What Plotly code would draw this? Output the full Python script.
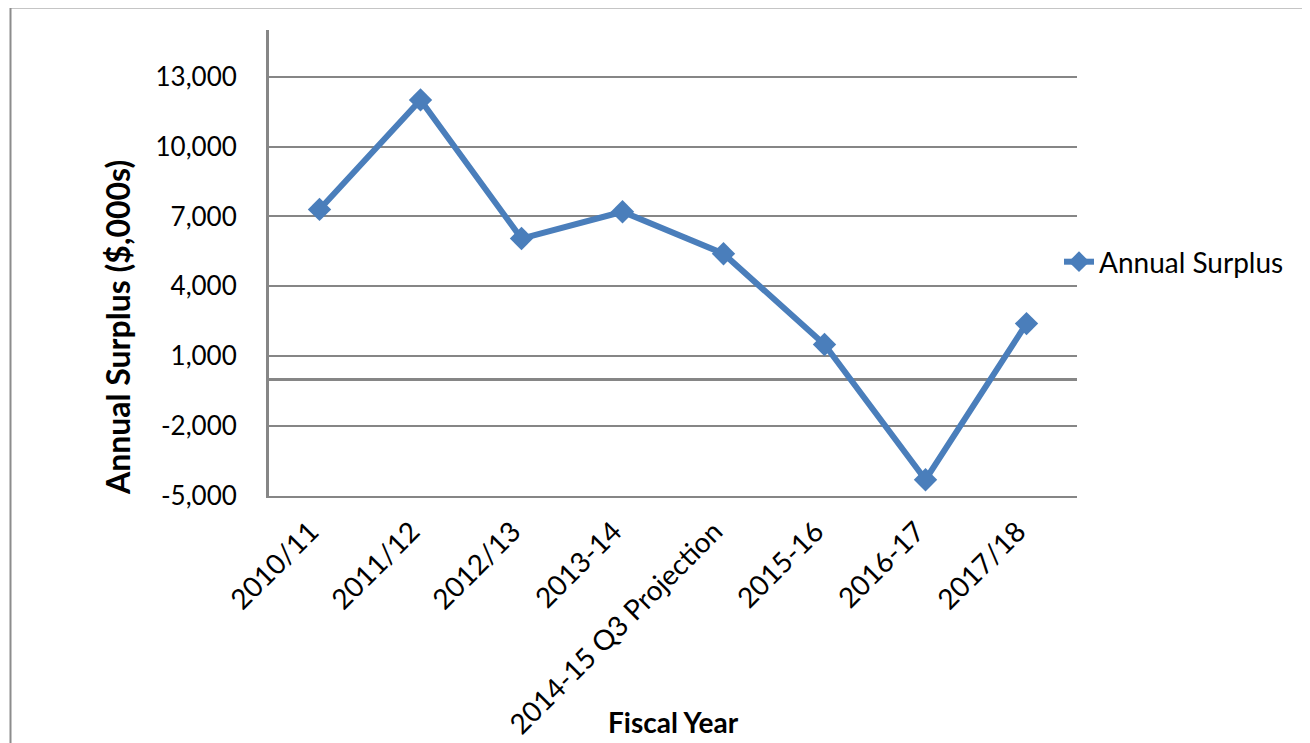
import plotly.graph_objects as go

categories = ["2010/11", "2011/12", "2012/13", "2013-14", "2014-15 Q3 Projection",
              "2015-16", "2016-17", "2017/18"]
annual_surplus = [7300, 12000, 6050, 7200, 5400, 1500, -4300, 2400]
y_tick_values = [-5000, -2000, 1000, 4000, 7000, 10000, 13000]
y_tick_labels = ["-5,000", "-2,000", "1,000", "4,000", "7,000", "10,000", "13,000"]

# the page body has an 8px margin; size the figure so it fills the window exactly
OFF = 8
W, H = 1310 - OFF, 743 - OFF
L, R, T, B = 269 - OFF, 233, 30 - OFF, 247
PW, PH = W - L - R, H - T - B

def px_x(px):  # reference-window pixel -> paper coordinate
    return (px - OFF - L) / PW

def px_y(py):
    return (T + PH - (py - OFF)) / PH

FONT = "Lato"
GRID = "#868686"
LINE_COLOR = "#4A7EBB"

fig = go.Figure()
fig.add_trace(go.Scatter(
    x=categories, y=annual_surplus, mode="lines+markers", name="Annual Surplus",
    line=dict(color=LINE_COLOR, width=6),
    marker=dict(symbol="diamond", size=18, color=LINE_COLOR),
))

fig.update_layout(
    width=W, height=H,
    margin=dict(l=L, r=R, t=T, b=B, pad=0, autoexpand=False),
    paper_bgcolor="white", plot_bgcolor="white",
    font=dict(family=FONT, color="black", size=26),
    showlegend=True,
    legend=dict(x=px_x(1059), y=px_y(262), xanchor="left", yanchor="middle",
                font=dict(family=FONT, size=28, color="black"),
                bgcolor="rgba(0,0,0,0)", borderwidth=0),
    xaxis=dict(
        type="category", range=[-0.5, len(categories) - 0.5],
        showgrid=False, zeroline=False,
        showline=True, linecolor=GRID, linewidth=2,
        ticks="", tickangle=-45, ticklabelstandoff=6, ticklabelshift=-9,
        tickfont=dict(family=FONT, size=28, color="black"),
    ),
    yaxis=dict(
        range=[-5000, 15000],
        tickmode="array", tickvals=y_tick_values, ticktext=y_tick_labels,
        showgrid=True, gridcolor=GRID, gridwidth=2,
        zeroline=True, zerolinecolor=GRID, zerolinewidth=3,
        showline=True, linecolor=GRID, linewidth=3,
        ticks="", ticklabelstandoff=24,
        tickfont=dict(family=FONT, size=26, color="black"),
    ),
    annotations=[
        dict(text="<b>Annual Surplus ($,000s)</b>", xref="paper", yref="paper",
             x=px_x(117), y=px_y(328), textangle=-90, showarrow=False,
             xanchor="center", yanchor="middle",
             font=dict(family=FONT, size=32, color="black")),
        dict(text="<b>Fiscal Year</b>", xref="paper", yref="paper",
             x=px_x(673), y=px_y(722), showarrow=False,
             xanchor="center", yanchor="middle",
             font=dict(family=FONT, size=28, color="black")),
    ],
    shapes=[
        dict(type="rect", xref="paper", yref="paper",
             x0=px_x(10.5), x1=px_x(1330), y0=px_y(780), y1=px_y(7.5),
             line=dict(color="#8C8C8C", width=2), fillcolor="rgba(0,0,0,0)",
             layer="below"),
    ],
)

fig.write_html("out.html")
